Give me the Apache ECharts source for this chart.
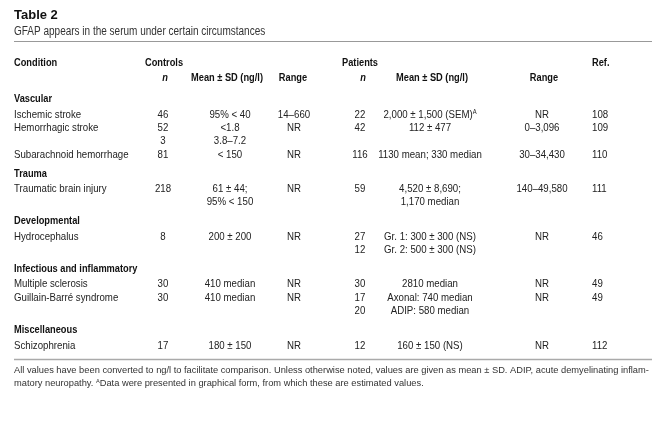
<!DOCTYPE html>
<html><head><meta charset="utf-8">
<script src="https://cdn.jsdelivr.net/npm/echarts@6/dist/echarts.min.js"></script>
<style>html,body{margin:0;padding:0;background:#fff}#c{width:667px;height:425px}</style>
</head><body><div id="c"></div>
<script>
// ---- data ----
const groups = ['Vascular', 'Trauma', 'Developmental', 'Infectious and inflammatory', 'Miscellaneous'];
const rowGroup = [0, 0, 0, 1, 2, 3, 3, 4];
const conditions = ['Ischemic stroke', 'Hemorrhagic stroke', 'Subarachnoid hemorrhage', 'Traumatic brain injury',
  'Hydrocephalus', 'Multiple sclerosis', 'Guillain-Barré syndrome', 'Schizophrenia'];
const controlsN = [['46'], ['52', '3'], ['81'], ['218'], ['8'], ['30'], ['30'], ['17']];
const controlsMean = [['95% < 40'], ['<1.8', '3.8–7.2'], ['< 150'], ['61 ± 44;', '95% < 150'], ['200 ± 200'],
  ['410 median'], ['410 median'], ['180 ± 150']];
const controlsRange = [['14–660'], ['NR'], ['NR'], ['NR'], ['NR'], ['NR'], ['NR'], ['NR']];
const patientsN = [['22'], ['42'], ['116'], ['59'], ['27', '12'], ['30'], ['17', '20'], ['12']];
const patientsMean = [['2,000 ± 1,500 (SEM){sup|A}'], ['112 ± 477'], ['1130 mean; 330 median'],
  ['4,520 ± 8,690;', '1,170 median'], ['Gr. 1: 300 ± 300 (NS)', 'Gr. 2: 500 ± 300 (NS)'],
  ['2810 median'], ['Axonal: 740 median', 'ADIP: 580 median'], ['160 ± 150 (NS)']];
const patientsRange = [['NR'], ['0–3,096'], ['30–34,430'], ['140–49,580'], ['NR'], ['NR'], ['NR'], ['NR']];
const refs = ['108', '109', '110', '111', '46', '49', '49', '112'];
const title = 'Table 2';
const subtitle = 'GFAP appears in the serum under certain circumstances';
const footnotes = [
  'All values have been converted to ng/l to facilitate comparison. Unless otherwise noted, values are given as mean ± SD. ADIP, acute demyelinating inflam-',
  'matory neuropathy. {sup|A}Data were presented in graphical form, from which these are estimated values.'
];

// ---- layout ----
const SANS = "'Liberation Sans',Arial,Helvetica,sans-serif";
const FS = 11.8, SX = 0.82, SXB = 0.785, LH = 13.4;
const col = {
  cond: {x: 14, align: 'left'},
  cn: {x: 163, align: 'center'},
  cm: {x: 230, align: 'center'},
  cr: {x: 294, align: 'center'},
  pn: {x: 360, align: 'center'},
  pm: {x: 430, align: 'center'},
  pr: {x: 542, align: 'center'},
  ref: {x: 592, align: 'left'}
};
const cells = [];
function add(x, y, text, align, o) {
  o = o || {};
  cells.push({
    x: x, y: y, text: text, align: align,
    size: o.size || FS, sx: o.sx || SX,
    weight: o.weight || 'normal', style: o.style || 'normal',
    color: o.color || '#222'
  });
}
const B = {weight: 'bold', color: '#111', sx: SXB};
const BI = {weight: 'bold', style: 'italic', color: '#111', sx: SXB};
add(14, 15, title, 'left', {size: 13, sx: 1, weight: 'bold', color: '#111'});
add(14, 32, subtitle, 'left', {size: 12.5, sx: 0.8, color: '#333'});
// header
add(14, 62.3, 'Condition', 'left', B);
add(145, 62.3, 'Controls', 'left', B);
add(342, 62.3, 'Patients', 'left', B);
add(592, 62.3, 'Ref.', 'left', B);
add(165, 77.5, 'n', 'center', BI);
add(227, 77.5, 'Mean ± SD (ng/l)', 'center', B);
add(293, 77.5, 'Range', 'center', B);
add(363, 77.5, 'n', 'center', BI);
add(432, 77.5, 'Mean ± SD (ng/l)', 'center', B);
add(544, 77.5, 'Range', 'center', B);

let y = 99;
groups.forEach(function (g, gi) {
  add(14, y, g, 'left', B);
  y += 15.3;
  conditions.forEach(function (c, i) {
    if (rowGroup[i] !== gi) return;
    const cols = [[col.cn, controlsN[i]], [col.cm, controlsMean[i]], [col.cr, controlsRange[i]],
      [col.pn, patientsN[i]], [col.pm, patientsMean[i]], [col.pr, patientsRange[i]]];
    let lines = 1;
    add(col.cond.x, y, c, col.cond.align);
    add(col.ref.x, y, refs[i], col.ref.align);
    cols.forEach(function (p) {
      p[1].forEach(function (t, k) { add(p[0].x, y + k * LH, t, p[0].align); });
      lines = Math.max(lines, p[1].length);
    });
    y += lines * LH;
  });
  y += 19 - LH;
});
footnotes.forEach(function (t, k) {
  add(14, 370 + k * 13.3, t, 'left', {size: 9.3, sx: 1, color: '#333'});
});

const chart = echarts.init(document.getElementById('c'), null, {renderer: 'canvas'});
chart.setOption({
  animation: false,
  backgroundColor: '#fff',
  grid: {left: 0, right: 0, top: 0, bottom: 0},
  xAxis: {type: 'value', min: 0, max: 667, show: false},
  yAxis: {type: 'value', min: 0, max: 425, inverse: true, show: false},
  graphic: [
    {type: 'line', shape: {x1: 14, y1: 41.5, x2: 652, y2: 41.5}, style: {stroke: '#999', lineWidth: 1}},
    {type: 'line', shape: {x1: 14, y1: 359.5, x2: 652, y2: 359.5}, style: {stroke: '#aaa', lineWidth: 1.5}}
  ],
  series: [{
    type: 'custom', silent: true, clip: false,
    data: cells.map(function (c) { return [c.x, c.y]; }),
    renderItem: function (params, api) {
      const c = cells[params.dataIndex];
      const pt = api.coord([api.value(0), api.value(1)]);
      return {
        type: 'text', x: pt[0], y: pt[1], scaleX: c.sx,
        style: {
          text: c.text, align: c.align, verticalAlign: 'middle',
          fontFamily: SANS, fontSize: c.size, fontWeight: c.weight, fontStyle: c.style,
          fill: c.color,
          rich: {sup: {fontSize: c.size * 0.6, verticalAlign: 'top', fontFamily: SANS, fill: c.color}}
        }
      };
    }
  }]
});
</script></body></html>
